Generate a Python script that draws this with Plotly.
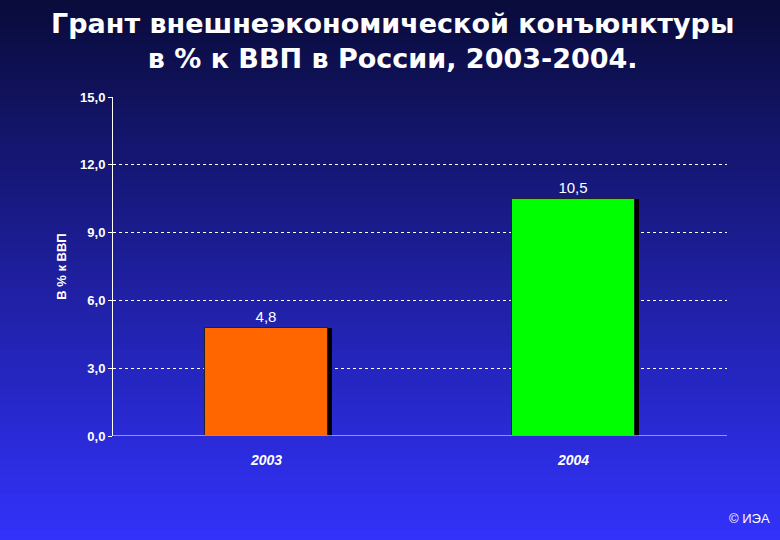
import plotly.graph_objects as go

years = ["2003", "2004"]
values = [4.8, 10.5]
labels = ["4,8", "10,5"]
colors = ["#ff6600", "#00ff00"]
yticks = [0, 3, 6, 9, 12, 15]
yticktext = ["0,0", "3,0", "6,0", "9,0", "12,0", "15,0"]

W, H = 780, 540
L, R, T, B = 113, 53, 97, 104
pw, ph = W - L - R, H - T - B

fig = go.Figure()
fig.add_trace(go.Bar(x=[0, 1], y=values, width=0.4, offset=-0.2 + 0.012,
                     marker=dict(color="black", line=dict(width=0)), hoverinfo="skip", showlegend=False))
fig.add_trace(go.Bar(x=[0, 1], y=values, width=0.4, offset=-0.2,
                     marker=dict(color=colors, line=dict(color="#222", width=1)),
                     text=labels, textposition="outside",
                     textfont=dict(color="white", size=15, family="Arial"), cliponaxis=False, showlegend=False))

shapes = []
n = 60
y0p, y1p = -B / ph, 1 + T / ph
for i in range(n):
    f = i / (n - 1)
    r = int(10 + (50 - 10) * f)
    g = int(12 + (50 - 12) * f)
    b = int(60 + (250 - 60) * f)
    ya = y1p - (y1p - y0p) * i / n
    yb = y1p - (y1p - y0p) * (i + 1) / n
    shapes.append(dict(type="rect", xref="paper", yref="paper", x0=-L / pw - 0.01, x1=1 + R / pw + 0.01,
                       y0=yb - 0.002, y1=ya + 0.002, fillcolor=f"rgb({r},{g},{b})", line=dict(width=0), layer="below"))

fig.update_layout(
    width=W, height=H, margin=dict(l=L, r=R, t=T, b=B),
    paper_bgcolor="#1a1a80", plot_bgcolor="rgba(0,0,0,0)",
    barmode="overlay", shapes=shapes, bargap=0,
    xaxis=dict(range=[-0.5, 1.5], tickvals=[0, 1], ticktext=["<b><i>2003</i></b>", "<b><i>2004</i></b>"],
               showgrid=False, zeroline=False, showline=False, ticklabelstandoff=14,
               tickfont=dict(color="white", size=14, family="Arial"), ticklen=0),
    yaxis=dict(range=[0, 15], tickvals=yticks, ticktext=["<b>%s</b>" % t for t in yticktext],
               tickfont=dict(color="white", size=13, family="Arial"),
               showgrid=True, gridcolor="white", griddash="dot", gridwidth=1,
               showline=True, linecolor="white", linewidth=1, zeroline=False,
               ticks="outside", tickcolor="white", ticklen=4,
               title=dict(text="<b>В % к ВВП</b>", font=dict(color="white", size=13, family="Arial"), standoff=10)),
    annotations=[
        dict(text="<b>Грант внешнеэкономической конъюнктуры<br>в % к ВВП в России, 2003-2004.</b>",
             xref="paper", yref="paper", x=(392 - L) / pw, y=1 + (T - 6) / ph, xanchor="center", yanchor="top",
             showarrow=False, align="center",
             font=dict(family="DejaVu Sans", size=27, color="white")),
        dict(text="© ИЭА", xref="paper", yref="paper", x=(772 - L) / pw, y=-0.27, xanchor="right",
             showarrow=False, font=dict(color="white", size=13, family="Arial"))],
)
fig.add_hline(y=0, line=dict(color="white", width=1))
fig.write_html("out.html", config={"displayModeBar": False},
               post_script="document.body.style.margin='0';document.body.style.overflow='hidden';")
